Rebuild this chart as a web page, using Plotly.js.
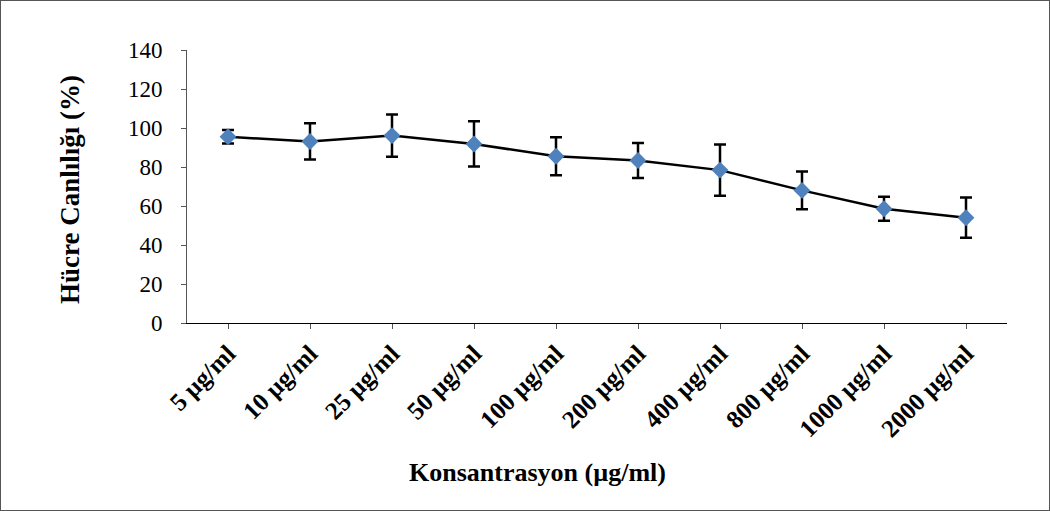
<!DOCTYPE html>
<html>
<head>
<meta charset="utf-8">
<script src="https://cdn.plot.ly/plotly-3.0.1.min.js"></script>
<style>
  html, body { margin: 0; padding: 0; background: #fff; }
  #chart { width: 1048px; height: 509px; border: 1px solid #555; }
</style>
</head>
<body>
<div id="chart"></div>
<script>
const categories = ["5 µg/ml", "10 µg/ml", "25 µg/ml", "50 µg/ml", "100 µg/ml", "200 µg/ml", "400 µg/ml", "800 µg/ml", "1000 µg/ml", "2000 µg/ml"];
const viability = [95.5, 93.1, 96.1, 91.8, 85.5, 83.3, 78.4, 68.0, 58.6, 54.0];
const errors = [3.5, 9.3, 10.8, 11.6, 9.7, 9.0, 13.2, 9.7, 6.1, 10.3];
const yTicks = [0, 20, 40, 60, 80, 100, 120, 140];

const FONT = "'Liberation Serif', 'Times New Roman', serif";

const trace = {
  x: categories,
  y: viability,
  type: "scatter",
  mode: "lines+markers",
  line: { color: "#000000", width: 2.5 },
  marker: { symbol: "diamond", size: 13, color: "#4F81BD", line: { width: 0 } },
  error_y: { type: "data", array: errors, visible: true, color: "#000000", thickness: 2.5, width: 6 },
  hoverinfo: "x+y"
};

const layout = {
  width: 1048,
  height: 509,
  margin: { l: 186, r: 42, t: 49, b: 187 },
  paper_bgcolor: "#ffffff",
  plot_bgcolor: "#ffffff",
  showlegend: false,
  font: { family: FONT, color: "#000000" },
  xaxis: {
    type: "category",
    range: [-0.5, 9.5],
    showgrid: false,
    zeroline: false,
    showline: true,
    linecolor: "#000000",
    linewidth: 1,
    ticks: "outside",
    ticklen: 5,
    tickcolor: "#555555",
    tickangle: -45,
    tickfont: { family: FONT, size: 25, color: "#000000", weight: "bold" },
    fixedrange: true
  },
  yaxis: {
    range: [0, 140],
    tickvals: yTicks,
    ticktext: yTicks.map(String),
    showgrid: false,
    zeroline: false,
    showline: true,
    linecolor: "#555555",
    linewidth: 1,
    ticks: "outside",
    ticklen: 5,
    tickcolor: "#555555",
    ticklabelstandoff: 14,
    tickfont: { family: FONT, size: 23, color: "#000000" },
    fixedrange: true
  },
  shapes: [
    { type: "line", xref: "paper", yref: "y", ysizemode: "pixel", yanchor: 0,
      x0: 1, x1: 1, y0: 0, y1: -5, line: { color: "#555555", width: 1 } }
  ],
  annotations: [
    { text: "<b>Hücre Canlılığı (%)</b>", xref: "paper", yref: "paper",
      x: -0.1427, y: 0.491, xanchor: "center", yanchor: "middle", textangle: -90,
      showarrow: false, font: { family: FONT, size: 27, color: "#000000" } },
    { text: "<b>Konsantrasyon (µg/ml)</b>", xref: "paper", yref: "paper",
      x: 0.427, y: -0.546, xanchor: "center", yanchor: "middle",
      showarrow: false, font: { family: FONT, size: 26, color: "#000000" } }
  ]
};

Plotly.newPlot("chart", [trace], layout, { displayModeBar: false, staticPlot: true });
</script>
</body>
</html>
